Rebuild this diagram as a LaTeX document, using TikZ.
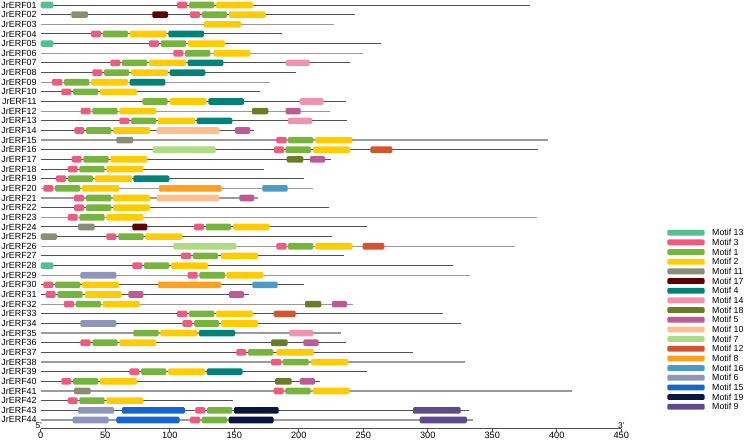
\documentclass[tikz,border=0pt]{standalone}
\usepackage{fontspec}
\setmainfont{Liberation Sans}
\definecolor{m13}{HTML}{55BF90}
\definecolor{m3}{HTML}{F05A80}
\definecolor{m1}{HTML}{76B43E}
\definecolor{m2}{HTML}{FFCC00}
\definecolor{m11}{HTML}{8A8E74}
\definecolor{m17}{HTML}{5C0004}
\definecolor{m4}{HTML}{008279}
\definecolor{m14}{HTML}{EE94AE}
\definecolor{m18}{HTML}{6A7D25}
\definecolor{m5}{HTML}{BE5B94}
\definecolor{m10}{HTML}{FFBF8D}
\definecolor{m7}{HTML}{AEDB84}
\definecolor{m12}{HTML}{D1552F}
\definecolor{m8}{HTML}{FFA01E}
\definecolor{m16}{HTML}{4A9BCB}
\definecolor{m6}{HTML}{8F95B8}
\definecolor{m15}{HTML}{1466CC}
\definecolor{m19}{HTML}{0B1640}
\definecolor{m9}{HTML}{5F4B8B}
\definecolor{gdark}{HTML}{505050}
\definecolor{glight}{HTML}{9A9A9A}
\tikzset{
  motif/.style={rounded corners=1.3pt},
  D/.style={draw=gdark, line width=1.0pt},
  L/.style={draw=glight, line width=1.3pt},
  lbl/.style={anchor=east, inner sep=0pt, font=\fontsize{8.9}{9}\selectfont},
  leglbl/.style={anchor=west, inner sep=0pt, font=\fontsize{8.8}{9}\selectfont},
  ticklbl/.style={inner sep=0pt, font=\fontsize{9.2}{10}\selectfont},
  endlbl/.style={inner sep=0pt, font=\fontsize{8.4}{9}\selectfont},
}
\newcommand\geneline[3]{\draw[#3] (40.7,{5+(#1-1)*9.65}) -- (#2,{5+(#1-1)*9.65});}
\newcommand\motbox[4]{\fill[motif,#4] (#2,{5+(#1-1)*9.65-3.3}) rectangle (#3,{5+(#1-1)*9.65+3.3});}
\begin{document}
\begin{tikzpicture}[x=1pt,y=-1pt]
\useasboundingbox (0,0) rectangle (745,440);
% labels
\foreach \i in {1,...,44}{
  \node[lbl] (lab\i) at (36.8,{5+(\i-1)*9.65}) {JrERF\ifnum\i<10 0\fi\i};
}
% gene lines
\geneline{1}{530}{D}
\geneline{2}{355}{D}
\geneline{3}{334.3}{L}
\geneline{4}{281.7}{D}
\geneline{5}{380.7}{D}
\geneline{6}{362.7}{L}
\geneline{7}{350}{D}
\geneline{8}{296}{D}
\geneline{9}{270}{L}
\geneline{10}{259.7}{D}
\geneline{11}{346}{D}
\geneline{12}{330.3}{L}
\geneline{13}{347.3}{D}
\geneline{14}{254.3}{D}
\geneline{15}{548.3}{L}
\geneline{16}{537.7}{D}
\geneline{17}{330.7}{D}
\geneline{18}{263.7}{D}
\geneline{19}{303.7}{D}
\geneline{20}{312.7}{L}
\geneline{21}{258.3}{L}
\geneline{22}{329.3}{D}
\geneline{23}{536.7}{L}
\geneline{24}{366.7}{D}
\geneline{25}{332}{D}
\geneline{26}{515}{L}
\geneline{27}{343.7}{D}
\geneline{28}{453.3}{D}
\geneline{29}{469.7}{L}
\geneline{30}{303.7}{D}
\geneline{31}{249.3}{D}
\geneline{32}{353.3}{L}
\geneline{33}{442.7}{D}
\geneline{34}{460.7}{D}
\geneline{35}{341}{L}
\geneline{36}{346}{D}
\geneline{37}{413.3}{D}
\geneline{38}{464.7}{L}
\geneline{39}{366.7}{D}
\geneline{40}{320}{D}
\geneline{41}{571.7}{L}
\geneline{42}{232.5}{D}
\geneline{43}{468.7}{D}
\geneline{44}{473.3}{L}
% motifs
\motbox{1}{40.7}{53.3}{m13}\motbox{1}{177}{187.3}{m3}\motbox{1}{189}{214.3}{m1}\motbox{1}{216}{253}{m2}
\motbox{2}{71.3}{88}{m11}\motbox{2}{152.3}{168}{m17}\motbox{2}{190}{200}{m3}\motbox{2}{201.7}{227}{m1}\motbox{2}{229}{265.7}{m2}
\motbox{3}{204}{241}{m2}
\motbox{4}{91}{101}{m3}\motbox{4}{102.7}{128}{m1}\motbox{4}{129.7}{166.7}{m2}\motbox{4}{168.3}{204}{m4}
\motbox{5}{40.7}{53.3}{m13}\motbox{5}{149}{159}{m3}\motbox{5}{160.7}{186}{m1}\motbox{5}{187.7}{225}{m2}
\motbox{6}{173.3}{183.3}{m3}\motbox{6}{185}{210.3}{m1}\motbox{6}{213.3}{250.3}{m2}
\motbox{7}{110.3}{120.3}{m3}\motbox{7}{122}{147.3}{m1}\motbox{7}{149}{186}{m2}\motbox{7}{187.7}{223.3}{m4}\motbox{7}{285.7}{309.7}{m14}
\motbox{8}{92.3}{102.3}{m3}\motbox{8}{104}{129.3}{m1}\motbox{8}{131}{168}{m2}\motbox{8}{169.7}{205.3}{m4}
\motbox{9}{52}{62.3}{m3}\motbox{9}{64}{89.3}{m1}\motbox{9}{91}{128}{m2}\motbox{9}{129.7}{165.3}{m4}
\motbox{10}{61.3}{71.3}{m3}\motbox{10}{73}{98.3}{m1}\motbox{10}{100}{137}{m2}
\motbox{11}{142.3}{167.7}{m1}\motbox{11}{169.7}{206.7}{m2}\motbox{11}{208.3}{244}{m4}\motbox{11}{299.7}{323.7}{m14}
\motbox{12}{80.7}{90.7}{m3}\motbox{12}{92.3}{117.7}{m1}\motbox{12}{119.3}{156.3}{m2}\motbox{12}{252}{268.3}{m18}\motbox{12}{285.7}{300.7}{m5}
\motbox{13}{119.3}{129.3}{m3}\motbox{13}{131}{156.3}{m1}\motbox{13}{158}{195}{m2}\motbox{13}{196.7}{232.3}{m4}\motbox{13}{288}{312}{m14}
\motbox{14}{74.3}{84.3}{m3}\motbox{14}{86}{111.3}{m1}\motbox{14}{113}{150}{m2}\motbox{14}{156.7}{219.5}{m10}\motbox{14}{235}{250.3}{m5}
\motbox{15}{116.3}{133}{m11}\motbox{15}{276.3}{286.7}{m3}\motbox{15}{288}{313.3}{m1}\motbox{15}{315.3}{352.3}{m2}
\motbox{16}{152.7}{215.7}{m7}\motbox{16}{274}{284}{m3}\motbox{16}{285.3}{311}{m1}\motbox{16}{313}{350}{m2}\motbox{16}{370.3}{392.3}{m12}
\motbox{17}{71.7}{81.7}{m3}\motbox{17}{83.3}{108.7}{m1}\motbox{17}{110.3}{147.3}{m2}\motbox{17}{286.7}{303.3}{m18}\motbox{17}{310}{325}{m5}
\motbox{18}{67.7}{77.7}{m3}\motbox{18}{79.3}{104.7}{m1}\motbox{18}{106.3}{143.3}{m2}
\motbox{19}{56}{66}{m3}\motbox{19}{67.7}{93}{m1}\motbox{19}{94.7}{132}{m2}\motbox{19}{133.3}{169.3}{m4}
\motbox{20}{43.3}{53.3}{m3}\motbox{20}{55}{80.3}{m1}\motbox{20}{82}{119}{m2}\motbox{20}{159}{221.7}{m8}\motbox{20}{262.3}{287.7}{m16}
\motbox{21}{74}{84}{m3}\motbox{21}{86}{111.3}{m1}\motbox{21}{113}{150}{m2}\motbox{21}{156.7}{219.3}{m10}\motbox{21}{239.3}{254.3}{m5}
\motbox{22}{74}{84}{m3}\motbox{22}{86}{111.3}{m1}\motbox{22}{113}{150}{m2}
\motbox{23}{67.7}{77.7}{m3}\motbox{23}{79.3}{104.7}{m1}\motbox{23}{106.3}{143.3}{m2}
\motbox{24}{78}{94.7}{m11}\motbox{24}{132.3}{147.3}{m17}\motbox{24}{194}{204}{m3}\motbox{24}{205.7}{231}{m1}\motbox{24}{233}{269.7}{m2}
\motbox{25}{40.7}{57}{m11}\motbox{25}{106.3}{116.3}{m3}\motbox{25}{118.3}{143.7}{m1}\motbox{25}{145.3}{182.3}{m2}
\motbox{26}{173.3}{236.3}{m7}\motbox{26}{276.3}{286.7}{m3}\motbox{26}{288}{313.3}{m1}\motbox{26}{315.3}{352.3}{m2}\motbox{26}{362.7}{384.3}{m12}
\motbox{27}{181}{191}{m3}\motbox{27}{192.7}{218}{m1}\motbox{27}{221}{258}{m2}
\motbox{28}{40.7}{53.3}{m13}\motbox{28}{132.3}{142.3}{m3}\motbox{28}{144}{169.3}{m1}\motbox{28}{171}{208}{m2}
\motbox{29}{80.3}{116.3}{m6}\motbox{29}{187.7}{197.7}{m3}\motbox{29}{199.3}{225}{m1}\motbox{29}{226.3}{263.3}{m2}
\motbox{30}{43.3}{53.3}{m3}\motbox{30}{55}{80.3}{m1}\motbox{30}{82}{119}{m2}\motbox{30}{158}{221}{m8}\motbox{30}{252.3}{277.7}{m16}
\motbox{31}{45.7}{55.7}{m3}\motbox{31}{57.3}{82.7}{m1}\motbox{31}{84.7}{121.7}{m2}\motbox{31}{128.3}{143.3}{m5}\motbox{31}{229}{244}{m5}
\motbox{32}{64}{74}{m3}\motbox{32}{75.7}{101}{m1}\motbox{32}{102.7}{139.7}{m2}\motbox{32}{305}{321.3}{m18}\motbox{32}{332}{347}{m5}
\motbox{33}{177}{187.3}{m3}\motbox{33}{189}{214.3}{m1}\motbox{33}{216}{253}{m2}\motbox{33}{273.7}{295.7}{m12}
\motbox{34}{80.3}{116.3}{m6}\motbox{34}{182.3}{192.3}{m3}\motbox{34}{194}{219.3}{m1}\motbox{34}{221}{258}{m2}
\motbox{35}{133.3}{158.7}{m1}\motbox{35}{160.3}{197.3}{m2}\motbox{35}{199}{235}{m4}\motbox{35}{289.3}{313.3}{m14}
\motbox{36}{80.3}{90.7}{m3}\motbox{36}{92.3}{117.7}{m1}\motbox{36}{119.3}{156.3}{m2}\motbox{36}{271}{287.7}{m18}\motbox{36}{303.3}{318.7}{m5}
\motbox{37}{236.3}{246.3}{m3}\motbox{37}{248}{273.3}{m1}\motbox{37}{276.3}{313.7}{m2}
\motbox{38}{271}{281.3}{m3}\motbox{38}{282.7}{308.7}{m1}\motbox{38}{311}{348.3}{m2}
\motbox{39}{129.3}{139.3}{m3}\motbox{39}{141}{166.3}{m1}\motbox{39}{168}{205}{m2}\motbox{39}{206.7}{242.5}{m4}
\motbox{40}{61.3}{71.3}{m3}\motbox{40}{73}{98.3}{m1}\motbox{40}{100}{137}{m2}\motbox{40}{275}{291.7}{m18}\motbox{40}{299.7}{315}{m5}
\motbox{41}{74}{90.7}{m11}\motbox{41}{273.7}{283.7}{m3}\motbox{41}{285.3}{310.7}{m1}\motbox{41}{312.7}{349.7}{m2}
\motbox{42}{67.7}{77.7}{m3}\motbox{42}{79.3}{104.7}{m1}\motbox{42}{106.3}{143.3}{m2}
\motbox{43}{78}{114}{m6}\motbox{43}{122}{185}{m15}\motbox{43}{195.3}{205.3}{m3}\motbox{43}{207}{232.3}{m1}\motbox{43}{234}{278.7}{m19}\motbox{43}{413}{460.7}{m9}
\motbox{44}{72.7}{108.7}{m6}\motbox{44}{116.3}{179.7}{m15}\motbox{44}{190}{200}{m3}\motbox{44}{201.7}{227}{m1}\motbox{44}{228.7}{273.7}{m19}\motbox{44}{419.7}{467}{m9}
% axis
\coordinate (ax0) at (40.7,428.5);
\coordinate (ax1) at (621.2,428.5);
\draw[gdark, line width=0.8pt] (ax0) -- (ax1);
\foreach \k in {0,...,9}{
  \pgfmathtruncatemacro\tv{\k*50}
  \draw[gdark, line width=0.8pt] (40.7+\k*64.5,428.5) -- ++(0,3);
  \node[ticklbl] (tick\k) at (40.7+\k*64.5,435.4) {\tv};
}
\node[endlbl] (five) at (38.8,425.6) {5'};
\node[endlbl] (three) at (621.5,425.6) {3'};
% legend
\foreach [count=\j from 0] \nm/\cl in {13/m13,3/m3,1/m1,2/m2,11/m11,17/m17,4/m4,14/m14,18/m18,5/m5,10/m10,7/m7,12/m12,8/m8,16/m16,6/m6,15/m15,19/m19,9/m9}{
  \fill[motif,\cl] (667.3,{232.7+\j*9.67-2.9}) rectangle (704.7,{232.7+\j*9.67+2.9});
  \node[leglbl] (leg\nm) at (712,{232.7+\j*9.67}) {Motif \nm};
}
\end{tikzpicture}
\end{document}
